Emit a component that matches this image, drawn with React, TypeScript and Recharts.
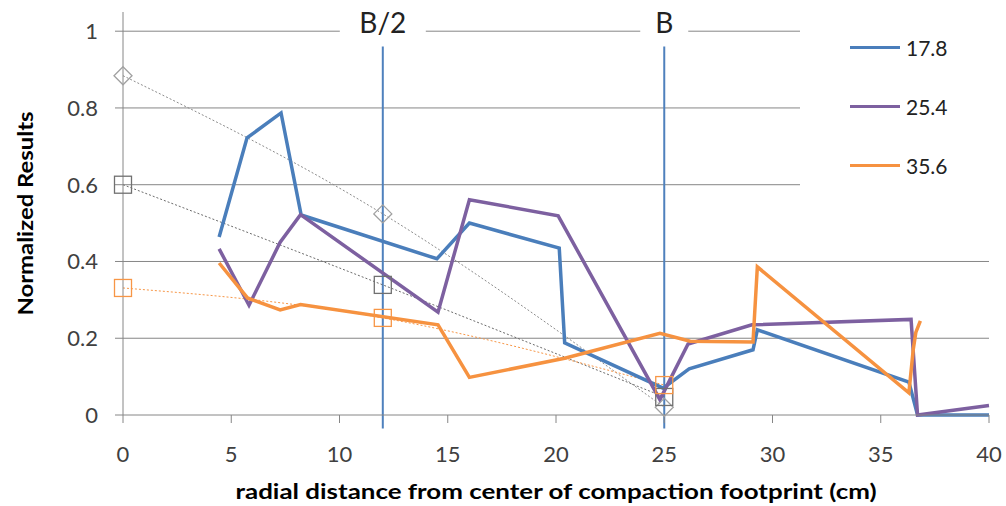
import React from "react";
import {
  ComposedChart,
  Line,
  XAxis,
  YAxis,
  ReferenceLine,
  ReferenceDot,
} from "recharts";

// ---------- data ----------
const xTicks = [0, 5, 10, 15, 20, 25, 30, 35, 40];
const yTicks = [0, 0.2, 0.4, 0.6, 0.8, 1];

const series178 = [
  { x: 4.44, y: 0.464 },
  { x: 5.73, y: 0.722 },
  { x: 7.3, y: 0.787 },
  { x: 8.23, y: 0.521 },
  { x: 14.5, y: 0.407 },
  { x: 16.0, y: 0.5 },
  { x: 20.15, y: 0.435 },
  { x: 20.4, y: 0.188 },
  { x: 24.95, y: 0.07 },
  { x: 26.15, y: 0.12 },
  { x: 29.1, y: 0.17 },
  { x: 29.3, y: 0.222 },
  { x: 36.3, y: 0.086 },
  { x: 36.7, y: 0 },
  { x: 40, y: 0 },
];

const series254 = [
  { x: 4.44, y: 0.433 },
  { x: 5.82, y: 0.286 },
  { x: 7.26, y: 0.45 },
  { x: 8.2, y: 0.522 },
  { x: 14.55, y: 0.268 },
  { x: 16.0, y: 0.561 },
  { x: 20.1, y: 0.519 },
  { x: 24.8, y: 0.04 },
  { x: 26.1, y: 0.185 },
  { x: 29.05, y: 0.235 },
  { x: 36.4, y: 0.249 },
  { x: 36.7, y: 0 },
  { x: 40, y: 0.025 },
];

const series356 = [
  { x: 4.44, y: 0.396 },
  { x: 5.75, y: 0.305 },
  { x: 7.26, y: 0.274 },
  { x: 8.2, y: 0.288 },
  { x: 14.55, y: 0.235 },
  { x: 16.0, y: 0.098 },
  { x: 20.4, y: 0.148 },
  { x: 24.8, y: 0.213 },
  { x: 26.2, y: 0.192 },
  { x: 29.1, y: 0.19 },
  { x: 29.3, y: 0.386 },
  { x: 36.3, y: 0.058 },
  { x: 36.5, y: 0.17 },
  { x: 36.62, y: 0.215 },
  { x: 36.83, y: 0.245 },
];

const diamondPts = [
  { x: 0, y: 0.884 },
  { x: 12, y: 0.524 },
  { x: 25, y: 0.02 },
];
const graySquarePts = [
  { x: 0, y: 0.6 },
  { x: 12, y: 0.339 },
  { x: 25, y: 0.047 },
];
const orangeSquarePts = [
  { x: 0, y: 0.331 },
  { x: 12, y: 0.253 },
  { x: 25, y: 0.078 },
];

const markerLines = [
  { label: "B/2", x: 12, labelY: 1.025, boxW: 86 },
  { label: "B", x: 25, labelY: 1.025, boxW: 48 },
];

const legendItems = [
  { name: "17.8", color: "#4A7EBB" },
  { name: "25.4", color: "#7D60A0" },
  { name: "35.6", color: "#F69240" },
];

// ---------- styles ----------
const FONT = "Lato, 'Open Sans', sans-serif";
const AXIS = "#868686";
const TICK_TEXT = "#404040";

const W = 1006;
const H = 506;

const DiamondDot = (p: any) => {
  const { cx, cy, index } = p;
  if (cx == null || cy == null) return <g key={index} />;
  const r = 9;
  return (
    <path
      key={index}
      d={`M${cx},${cy - r} L${cx + r},${cy} L${cx},${cy + r} L${cx - r},${cy} Z`}
      fill="none"
      stroke="#a0a0a0"
      strokeWidth={1.3}
    />
  );
};

const makeSquareDot = (color: string) => (p: any) => {
  const { cx, cy, index } = p;
  if (cx == null || cy == null) return <g key={index} />;
  const s = 17;
  return (
    <rect
      key={index}
      x={cx - s / 2}
      y={cy - s / 2}
      width={s}
      height={s}
      fill="none"
      stroke={color}
      strokeWidth={1.3}
    />
  );
};

const GraySquareDot = makeSquareDot("#707070");
const OrangeSquareDot = makeSquareDot("#F79646");

const makeLabelShape = (label: string, boxW: number) => (p: any) => {
  const { cx, cy } = p;
  return (
    <g>
      <rect x={cx - boxW / 2} y={cy - 17} width={boxW} height={34} fill="#ffffff" />
      <text
        x={cx}
        y={cy}
        textAnchor="middle"
        dominantBaseline="central"
        fontFamily={FONT}
        fontSize={28}
        fill="#222"
      >
        {label}
      </text>
    </g>
  );
};

const YLabel = (p: any) => {
  const vb = p.viewBox || {};
  const x = (vb.x ?? 0) + 25;
  const y = (vb.y ?? 0) + (vb.height ?? 0) / 2;
  return (
    <text
      x={x}
      y={y}
      transform={`rotate(-90, ${x}, ${y})`}
      textAnchor="middle"
      dominantBaseline="central"
      fontFamily={FONT}
      fontWeight="bold"
      fontSize={20}
      textLength={204}
      lengthAdjust="spacingAndGlyphs"
      fill="#000"
    >
      Normalized Results
    </text>
  );
};

const XLabel = (p: any) => {
  const vb = p.viewBox || {};
  const x = (vb.x ?? 0) + (vb.width ?? 0) / 2;
  const y = (vb.y ?? 0) + 76;
  return (
    <text
      x={x}
      y={y}
      textAnchor="middle"
      dominantBaseline="central"
      fontFamily={FONT}
      fontWeight="bold"
      fontSize={20}
      textLength={641}
      lengthAdjust="spacingAndGlyphs"
      fill="#000"
    >
      radial distance from center of compaction footprint (cm)
    </text>
  );
};

export default function App() {
  return (
    <div
      style={{
        position: "absolute",
        left: 0,
        top: 0,
        width: W,
        height: H,
        background: "#ffffff",
        fontFamily: FONT,
      }}
    >
      <ComposedChart
        width={W}
        height={H}
        margin={{ top: 12, right: 17, bottom: 0, left: 0 }}
      >
        <XAxis
          type="number"
          dataKey="x"
          domain={[0, 40]}
          ticks={xTicks}
          interval={0}
          height={91}
          stroke={AXIS}
          tickSize={8}
          tickMargin={23}
          tick={{ fill: TICK_TEXT, fontSize: 22, fontFamily: FONT }}
          label={<XLabel />}
        />
        <YAxis
          type="number"
          dataKey="y"
          domain={[0, 1.05]}
          ticks={yTicks}
          interval={0}
          width={123}
          stroke={AXIS}
          tickSize={8}
          tickMargin={17}
          tick={{ fill: TICK_TEXT, fontSize: 22, fontFamily: FONT }}
          tickFormatter={(v: number) => String(Math.round(v * 10) / 10)}
          label={<YLabel />}
        />

        {yTicks
          .filter((v) => v > 0)
          .map((v) => (
            <ReferenceLine
              key={"g" + v}
              y={v}
              stroke={AXIS}
              strokeWidth={1}
            />
          ))}

        {markerLines.map((m) => (
          <ReferenceDot
            key={"lbl" + m.label}
            x={m.x}
            y={m.labelY}
            ifOverflow="visible"
            shape={makeLabelShape(m.label, m.boxW)}
          />
        ))}
        {markerLines.map((m) => (
          <ReferenceLine
            key={"vl" + m.label}
            segment={[
              { x: m.x, y: -0.035 },
              { x: m.x, y: 0.96 },
            ]}
            ifOverflow="visible"
            stroke="#4F81BD"
            strokeWidth={2}
          />
        ))}

        <Line
          data={diamondPts}
          dataKey="y"
          type="natural"
          stroke="#8c8c8c"
          strokeWidth={1}
          strokeDasharray="2 2"
          dot={DiamondDot}
          activeDot={false}
          isAnimationActive={false}
          legendType="none"
        />
        <Line
          data={graySquarePts}
          dataKey="y"
          type="natural"
          stroke="#6c6c6c"
          strokeWidth={1}
          strokeDasharray="2 2"
          dot={GraySquareDot}
          activeDot={false}
          isAnimationActive={false}
          legendType="none"
        />
        <Line
          data={orangeSquarePts}
          dataKey="y"
          type="natural"
          stroke="#F79646"
          strokeWidth={1}
          strokeDasharray="2 2"
          dot={OrangeSquareDot}
          activeDot={false}
          isAnimationActive={false}
          legendType="none"
        />

        <Line
          data={series178}
          dataKey="y"
          name="17.8"
          type="linear"
          stroke="#4A7EBB"
          strokeWidth={3.5}
          dot={false}
          activeDot={false}
          isAnimationActive={false}
        />
        <Line
          data={series254}
          dataKey="y"
          name="25.4"
          type="linear"
          stroke="#7D60A0"
          strokeWidth={3.5}
          dot={false}
          activeDot={false}
          isAnimationActive={false}
        />
        <Line
          data={series356}
          dataKey="y"
          name="35.6"
          type="linear"
          stroke="#F69240"
          strokeWidth={3.5}
          dot={false}
          activeDot={false}
          isAnimationActive={false}
        />
      </ComposedChart>

      <div
        style={{
          position: "absolute",
          left: 800,
          top: 0,
          width: 206,
          height: 200,
          background: "#ffffff",
          paddingTop: 18,
          boxSizing: "border-box",
        }}
      >
        {legendItems.map((it) => (
          <div
            key={it.name}
            style={{
              height: 59,
              display: "flex",
              alignItems: "center",
            }}
          >
            <span
              style={{
                display: "inline-block",
                marginLeft: 50,
                width: 50,
                height: 3,
                background: it.color,
              }}
            />
            <span
              style={{
                marginLeft: 6,
                fontSize: 21,
                color: "#222",
                fontFamily: FONT,
              }}
            >
              {it.name}
            </span>
          </div>
        ))}
      </div>
    </div>
  );
}
